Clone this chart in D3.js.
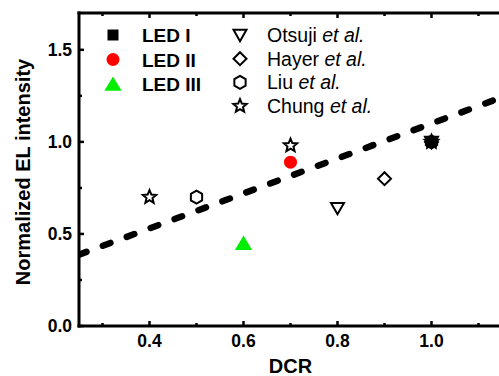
<!DOCTYPE html>
<html>
<head>
<meta charset="utf-8">
<script src="https://cdn.jsdelivr.net/npm/d3@7"></script>
<style>
  html, body { margin: 0; padding: 0; background: #fff; }
  svg { display: block; font-family: "Liberation Sans", Arial, sans-serif; }
</style>
</head>
<body>
<svg id="chart" width="499" height="376"></svg>
<script>
// ---- data ----
const ledNames = ["LED I", "LED II", "LED III"];
const ledDCR = [1.0, 0.7, 0.6];
const ledEL = [1.0, 0.89, 0.45];
const ledColors = ["#000000", "#ff0000", "#00ee00"];
const ledShapes = ["square", "circle", "triangle"];

const refNames = ["Otsuji", "Hayer", "Liu", "Chung"];
const refShapes = ["triangleDown", "diamond", "hexagon", "star"];
const otsujiDCR = [0.8, 1.0];
const otsujiEL = [0.64, 1.0];
const hayerDCR = [0.9, 1.0];
const hayerEL = [0.80, 1.0];
const liuDCR = [0.5, 1.0];
const liuEL = [0.70, 1.0];
const chungDCR = [0.4, 0.7, 1.0];
const chungEL = [0.70, 0.98, 1.0];

// linear trend: EL = slope * DCR + intercept
const fitSlope = 0.95;
const fitIntercept = 0.15;

const xMajor = [0.4, 0.6, 0.8, 1.0];
const xMinor = [0.3, 0.5, 0.7, 0.9, 1.1];
const yMajor = [0.0, 0.5, 1.0, 1.5];
const yMinor = [0.25, 0.75, 1.25];

// ---- layout ----
const svg = d3.select("#chart");
const pL = 79, pR = 502, pT = 13, pB = 326;
const x = d3.scaleLinear().domain([0.25, 1.15]).range([pL, pR]);
const y = d3.scaleLinear().domain([0, 1.7]).range([pB, pT]);

svg.append("defs").append("clipPath").attr("id", "plotClip")
  .append("rect").attr("x", pL).attr("y", pT)
  .attr("width", pR - pL).attr("height", pB - pT);

// marker shapes centred at the origin
function markerPath(type, r) {
  const p = d3.path();
  if (type === "square") {
    p.rect(-r, -r, 2 * r, 2 * r);
  } else if (type === "circle") {
    p.arc(0, 0, r, 0, 2 * Math.PI);
  } else if (type === "triangle") {
    p.moveTo(0, -r * 1.05); p.lineTo(r * 1.2, r * 0.95); p.lineTo(-r * 1.2, r * 0.95); p.closePath();
  } else if (type === "triangleDown") {
    p.moveTo(-r, -r * 0.8); p.lineTo(r, -r * 0.8); p.lineTo(0, r * 0.95); p.closePath();
  } else if (type === "diamond") {
    p.moveTo(0, -r); p.lineTo(r, 0); p.lineTo(0, r); p.lineTo(-r, 0); p.closePath();
  } else if (type === "hexagon") {
    for (let i = 0; i < 6; i++) {
      const a = -Math.PI / 2 + i * Math.PI / 3;
      const px = r * Math.cos(a), py = r * Math.sin(a);
      if (i === 0) p.moveTo(px, py); else p.lineTo(px, py);
    }
    p.closePath();
  } else if (type === "star") {
    for (let i = 0; i < 10; i++) {
      const a = -Math.PI / 2 + i * Math.PI / 5;
      const rr = i % 2 === 0 ? r : r * 0.45;
      const px = rr * Math.cos(a), py = rr * Math.sin(a);
      if (i === 0) p.moveTo(px, py); else p.lineTo(px, py);
    }
    p.closePath();
  }
  return p.toString();
}
const filledSize = { square: 5.5, circle: 6.5, triangle: 7.2 };
const hollowSize = { triangleDown: 6.5, diamond: 6.5, hexagon: 6.5, star: 7 };

// ---- axes ----
const axisW = 3;
const g = svg.append("g");

// frame
g.append("line").attr("x1", pL).attr("x2", pL).attr("y1", pT - 1.5).attr("y2", pB + 1.5)
  .attr("stroke", "#000").attr("stroke-width", axisW);
g.append("line").attr("x1", pL - 1.5).attr("x2", pR).attr("y1", pB).attr("y2", pB)
  .attr("stroke", "#000").attr("stroke-width", axisW);
g.append("line").attr("x1", pL - 1.5).attr("x2", pR).attr("y1", pT).attr("y2", pT)
  .attr("stroke", "#000").attr("stroke-width", axisW);

// ticks (inward)
function xTicks(vals, len) {
  g.selectAll(null).data(vals).enter().append("line")
    .attr("x1", d => x(d)).attr("x2", d => x(d))
    .attr("y1", pB).attr("y2", pB - len)
    .attr("stroke", "#000").attr("stroke-width", 2.5);
  g.selectAll(null).data(vals).enter().append("line")
    .attr("x1", d => x(d)).attr("x2", d => x(d))
    .attr("y1", pT).attr("y2", pT + len)
    .attr("stroke", "#000").attr("stroke-width", 2.5);
}
function yTicks(vals, len) {
  g.selectAll(null).data(vals).enter().append("line")
    .attr("x1", pL).attr("x2", pL + len)
    .attr("y1", d => y(d)).attr("y2", d => y(d))
    .attr("stroke", "#000").attr("stroke-width", 2.5);
}
xTicks(xMajor, 5); xTicks(xMinor, 3);
yTicks(yMajor, 5); yTicks(yMinor, 3);

// tick labels
g.selectAll(null).data(xMajor).enter().append("text")
  .attr("x", d => x(d)).attr("y", 347)
  .attr("text-anchor", "middle").attr("font-size", 17.5).attr("font-weight", "bold")
  .text(d3.format(".1f"));
g.selectAll(null).data(yMajor).enter().append("text")
  .attr("x", 72).attr("y", d => y(d) + 6)
  .attr("text-anchor", "end").attr("font-size", 17.5).attr("font-weight", "bold")
  .text(d3.format(".1f"));

// axis titles
svg.append("text").attr("x", (pL + pR) / 2).attr("y", 373)
  .attr("text-anchor", "middle").attr("font-size", 20).attr("font-weight", "bold")
  .text("DCR");
svg.append("text").attr("transform", `translate(30,172) rotate(-90)`)
  .attr("text-anchor", "middle").attr("font-size", 20).attr("font-weight", "bold")
  .text("Normalized EL intensity");

// ---- trend line ----
const plot = svg.append("g").attr("clip-path", "url(#plotClip)");
const fitX = x.domain();
plot.append("path")
  .datum(fitX.map(d => [d, fitSlope * d + fitIntercept]))
  .attr("d", d3.line().x(d => x(d[0])).y(d => y(d[1])))
  .attr("fill", "none").attr("stroke", "#000").attr("stroke-width", 6.5)
  .attr("stroke-linecap", "round").attr("stroke-dasharray", "8,17.5");

// ---- literature points (hollow) ----
const refSets = [
  { shape: "triangleDown", xs: otsujiDCR, ys: otsujiEL },
  { shape: "diamond", xs: hayerDCR, ys: hayerEL },
  { shape: "hexagon", xs: liuDCR, ys: liuEL },
  { shape: "star", xs: chungDCR, ys: chungEL }
];
refSets.forEach(s => {
  plot.selectAll(null).data(s.xs.map((v, i) => [v, s.ys[i]])).enter().append("path")
    .attr("transform", d => `translate(${x(d[0])},${y(d[1])})`)
    .attr("d", markerPath(s.shape, hollowSize[s.shape]))
    .attr("fill", "none").attr("stroke", "#000").attr("stroke-width", 2)
    .attr("stroke-linejoin", "miter");
});

// ---- LED points (filled) ----
plot.selectAll(null).data(ledDCR.map((v, i) => i)).enter().append("path")
  .attr("transform", i => `translate(${x(ledDCR[i])},${y(ledEL[i])})`)
  .attr("d", i => markerPath(ledShapes[i], filledSize[ledShapes[i]]))
  .attr("fill", i => ledColors[i]);

// ---- legends ----
const legA = svg.append("g");
ledNames.forEach((name, i) => {
  const cy = 35 + i * 24.5;
  legA.append("path").attr("transform", `translate(113,${cy})`)
    .attr("d", markerPath(ledShapes[i], filledSize[ledShapes[i]]))
    .attr("fill", ledColors[i]);
  legA.append("text").attr("x", 142).attr("y", cy + 7)
    .attr("font-size", 19).attr("font-weight", "bold").text(name);
});
const legB = svg.append("g");
refNames.forEach((name, i) => {
  const cy = 35 + i * 23.7;
  legB.append("path").attr("transform", `translate(240,${cy})`)
    .attr("d", markerPath(refShapes[i], hollowSize[refShapes[i]]))
    .attr("fill", "none").attr("stroke", "#000").attr("stroke-width", 2);
  const t = legB.append("text").attr("x", 267).attr("y", cy + 7).attr("font-size", 19.5);
  t.append("tspan").text(name + " ");
  t.append("tspan").attr("font-style", "italic").text("et al.");
});
</script>
</body>
</html>
